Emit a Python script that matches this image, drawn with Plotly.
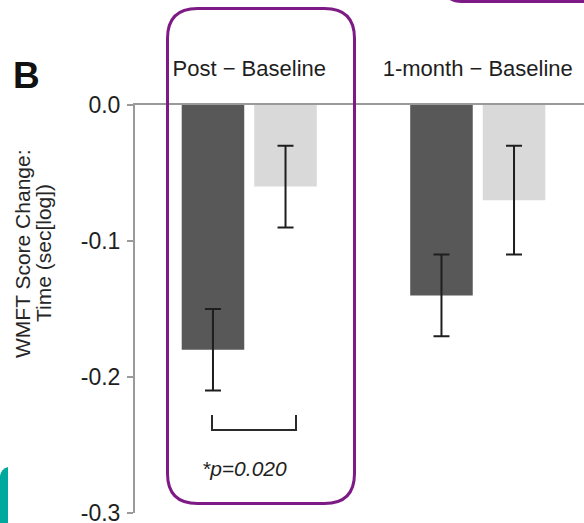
import plotly.graph_objects as go

# Mean change scores (log seconds) with standard errors
periods = ["Post \u2212 Baseline", "1-month \u2212 Baseline"]
treatment_mean = [-0.18, -0.14]
treatment_err = [0.03, 0.03]
control_mean = [-0.06, -0.07]
control_err = [0.03, 0.04]

y_ticks = [0.0, -0.1, -0.2, -0.3]
y_tick_text = ["0.0", "-0.1", "-0.2", "-0.3"]

W, H = 584, 523
ML, MR, MT, MB = 135, 0, 105, 10
FONT = "Liberation Sans, Arial, Helvetica, sans-serif"
PURPLE = "#7e1a85"
INK = "#1e1e1e"


def px(x):
    return (x - ML) / (W - ML - MR)


def py(y):
    return (H - MB - y) / (H - MT - MB)


def pts_path(cmds):
    out = []
    for c in cmds:
        op, coords = c[0], c[1:]
        parts = []
        for i in range(0, len(coords), 2):
            parts.append(f"{px(coords[i]):.5f},{py(coords[i + 1]):.5f}")
        out.append(op + " " + " ".join(parts))
    return " ".join(out)


def rounded_rect(x0, y0, x1, y1, r):
    return pts_path([
        ("M", x0 + r, y0),
        ("L", x1 - r, y0),
        ("Q", x1, y0, x1, y0 + r),
        ("L", x1, y1 - r),
        ("Q", x1, y1, x1 - r, y1),
        ("L", x0 + r, y1),
        ("Q", x0, y1, x0, y1 - r),
        ("L", x0, y0 + r),
        ("Q", x0, y0, x0 + r, y0),
    ]) + " Z"


err_style = dict(type="data", thickness=2, width=8, color=INK)

fig = go.Figure()
fig.add_trace(go.Bar(
    name="Treatment", x=periods, y=treatment_mean,
    marker=dict(color="#585858", line=dict(width=0)),
    error_y=dict(array=treatment_err, **err_style),
))
fig.add_trace(go.Bar(
    name="Control", x=periods, y=control_mean,
    marker=dict(color="#d9d9d9", line=dict(width=0)),
    error_y=dict(array=control_err, **err_style),
))

shapes = [
    # highlight box round the post-treatment comparison
    dict(type="path", xref="paper", yref="paper",
         path=rounded_rect(167.5, 8.5, 354.5, 503.5, 30),
         line=dict(color=PURPLE, width=3)),
    # lower edge of the neighbouring panel's box
    dict(type="path", xref="paper", yref="paper",
         path=pts_path([("M", 446, -10), ("Q", 447, 1.5, 462, 1.5), ("L", 600, 1.5)]),
         line=dict(color=PURPLE, width=3)),
    # teal page accent
    dict(type="path", xref="paper", yref="paper",
         path=pts_path([("M", 0, 530), ("L", 0, 476), ("Q", 1, 469, 8, 467), ("L", 8, 530)]) + " Z",
         fillcolor="#00a99d", line=dict(width=0)),
    # significance bracket between the two post-treatment bars
    dict(type="path", xref="paper", yref="paper",
         path=pts_path([("M", 212, 415), ("L", 212, 430), ("L", 296, 430), ("L", 296, 415)]),
         line=dict(color="#2a2a2a", width=2)),
]

annotations = [
    dict(text="<b>B</b>", xref="paper", yref="paper", x=px(26), y=py(75),
         showarrow=False, font=dict(family=FONT, size=37, color="#111111"),
         xanchor="center", yanchor="middle"),
    dict(text="WMFT Score Change:", xref="paper", yref="paper", x=px(22), y=py(253),
         textangle=-90, showarrow=False,
         font=dict(family=FONT, size=21, color="#262626"),
         xanchor="center", yanchor="middle"),
    dict(text="Time (sec[log])", xref="paper", yref="paper", x=px(43), y=py(253),
         textangle=-90, showarrow=False,
         font=dict(family=FONT, size=21, color="#262626"),
         xanchor="center", yanchor="middle"),
    dict(text="<i>*p=0.020</i>", xref="paper", yref="paper", x=px(244), y=py(468),
         showarrow=False, font=dict(family=FONT, size=21, color=INK),
         xanchor="center", yanchor="middle"),
]

fig.update_layout(
    width=W, height=H,
    margin=dict(l=ML, r=MR, t=MT, b=MB, pad=0, autoexpand=False),
    paper_bgcolor="white", plot_bgcolor="white",
    barmode="group", bargap=0.365, bargroupgap=0.138,
    showlegend=False,
    shapes=shapes,
    annotations=annotations,
    xaxis=dict(
        side="top", range=[-0.5, 1.465], showgrid=False, zeroline=False,
        showline=True, linecolor="#9a9a9a", linewidth=2,
        ticks="", ticklabelstandoff=18, automargin=False,
        ticklabeloverflow="allow",
        tickfont=dict(family=FONT, size=22, color=INK),
    ),
    yaxis=dict(
        range=[-0.3, 0.0], tickvals=y_ticks, ticktext=y_tick_text,
        showgrid=False, zeroline=False, automargin=False,
        showline=True, linecolor="#9a9a9a", linewidth=2,
        ticks="outside", ticklen=6, tickwidth=2, tickcolor="#9a9a9a",
        ticklabelstandoff=2, ticklabeloverflow="allow",
        tickfont=dict(family=FONT, size=23, color=INK),
    ),
)

fig.write_html("out.html")
